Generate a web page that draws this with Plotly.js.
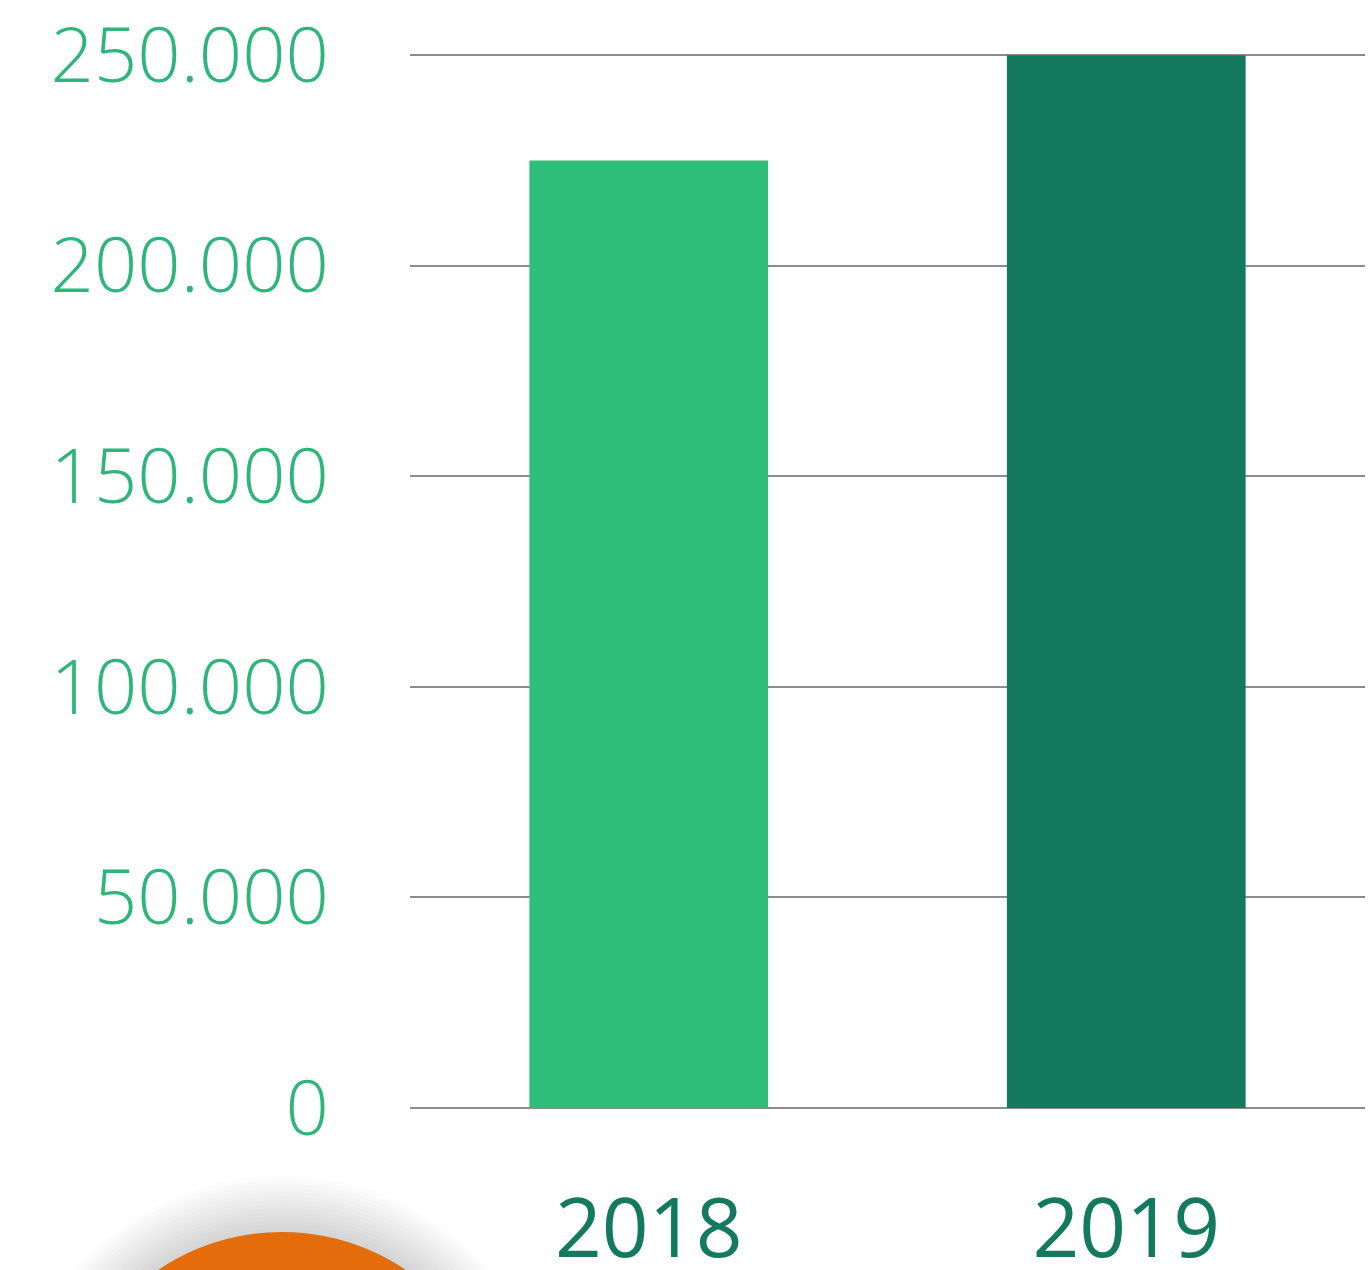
<!DOCTYPE html>
<html>
<head>
<meta charset="utf-8">
<script src="https://cdn.plot.ly/plotly-3.0.1.min.js"></script>
<style>html,body{margin:0;padding:0;background:#fff;}#chart{width:1369px;height:1270px;}</style>
</head>
<body>
<div id="chart"></div>
<script>
const years = ["2018", "2019"];
const values = [225000, 250000];
const barColors = ["#2ebe7a", "#137a60"];
const yTickVals = [0, 50000, 100000, 150000, 200000, 250000];
const yTickText = ["0", "50.000", "100.000", "150.000", "200.000", "250.000"];

const W = 1369, H = 1270;
const margin = {l: 410, r: 4, t: 54, b: 162};
const pw = W - margin.l - margin.r, ph = H - margin.t - margin.b;
function px2paperX(px){ return (px - margin.l) / pw; }
function px2paperY(py){ return (H - margin.b - py) / ph; }

// decorative orange circle with soft shadow at bottom-left
const cx = 282, cy = 1453, r = 221;
const shapes = [];
for (let i = 14; i >= 1; i--) {
  const rr = r + i * 4;
  shapes.push({type: 'circle', xref: 'paper', yref: 'paper', layer: 'above',
    x0: px2paperX(cx - rr), x1: px2paperX(cx + rr),
    y0: px2paperY(cy + rr), y1: px2paperY(cy - rr),
    fillcolor: 'rgba(0,0,0,0.010)', line: {width: 0}});
}
shapes.push({type: 'circle', xref: 'paper', yref: 'paper', layer: 'above',
  x0: px2paperX(cx - r), x1: px2paperX(cx + r),
  y0: px2paperY(cy + r), y1: px2paperY(cy - r),
  fillcolor: '#e46c0a', line: {width: 0}});

const data = [{
  type: 'bar', x: years, y: values,
  marker: {color: barColors},
  width: 0.5, hoverinfo: 'skip'
}];

const layout = {
  width: W, height: H, margin: margin,
  paper_bgcolor: '#ffffff', plot_bgcolor: '#ffffff',
  showlegend: false,
  xaxis: {
    type: 'category', showgrid: false, zeroline: false, showline: false,
    ticks: '', ticklabelstandoff: 66,
    tickfont: {family: '"Open Sans", sans-serif', size: 82, color: '#137a60', weight: 400}
  },
  yaxis: {
    range: [0, 250300], tickvals: yTickVals, ticktext: yTickText,
    showgrid: true, gridcolor: '#8c8c8c', gridwidth: 2,
    zeroline: true, zerolinecolor: '#8c8c8c', zerolinewidth: 2,
    showline: false, ticks: '', ticklabelstandoff: 80,
    tickfont: {family: '"Open Sans", sans-serif', size: 76, color: '#2eb67a', weight: 300}
  },
  shapes: shapes
};

Plotly.newPlot('chart', data, layout, {displayModeBar: false, staticPlot: true});
</script>
</body>
</html>
